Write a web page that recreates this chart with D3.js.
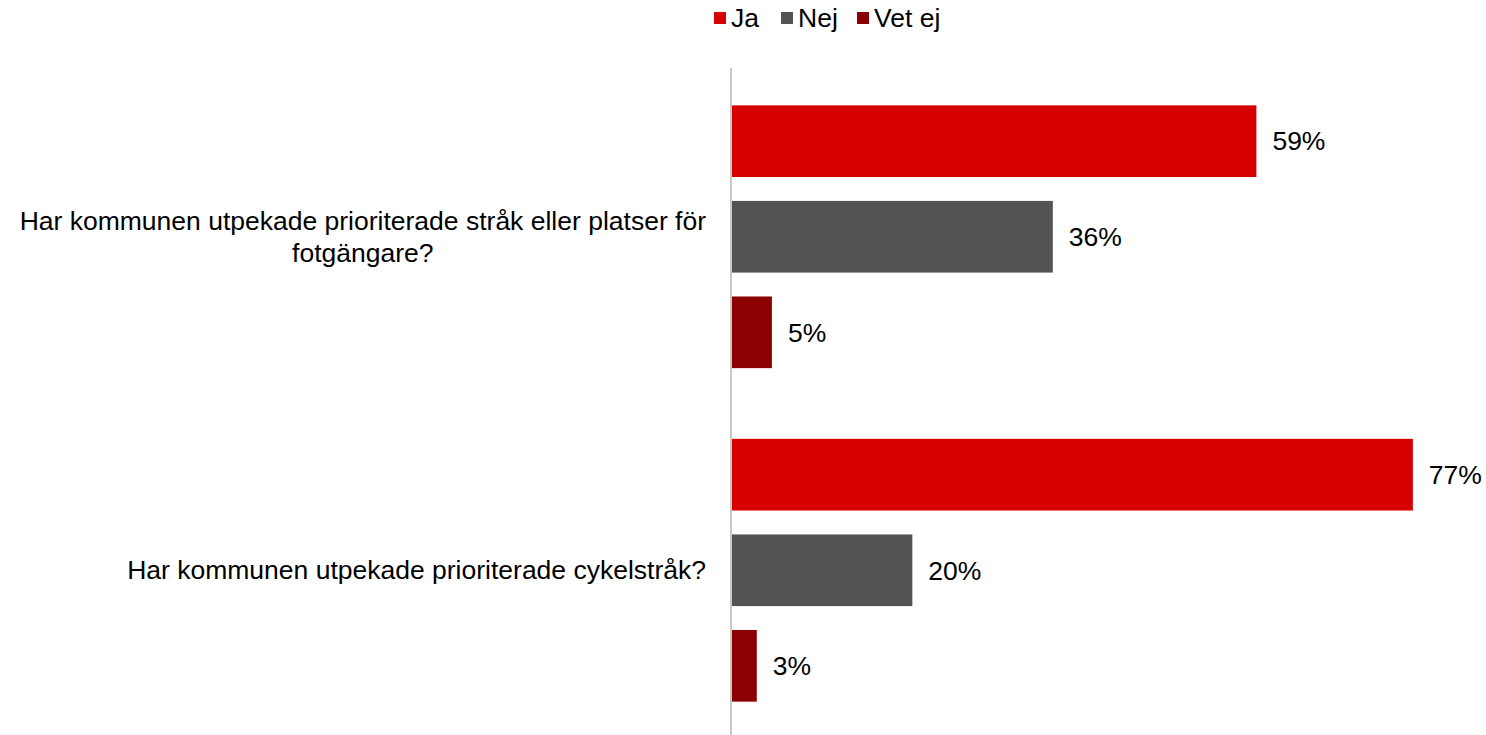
<!DOCTYPE html>
<html>
<head>
<meta charset="utf-8">
<script src="https://cdn.jsdelivr.net/npm/d3@7"></script>
<style>
  body { margin: 0; background: #fff; }
  text { font-family: "Liberation Sans", Arial, sans-serif; fill: #000; }
</style>
</head>
<body>
<div id="chart"></div>
<script>
// frågor (kategorier), en rad per textrad
var fragor = [
    ["Har kommunen utpekade prioriterade stråk eller platser för", "fotgängare?"],
    ["Har kommunen utpekade prioriterade cykelstråk?"]
];
var serier = ["Ja", "Nej", "Vet ej"];
var farger = ["#d70000", "#545454", "#8b0000"];
// andelar i procent (avlästa från staplarna, etiketten avrundas)
var ja = [59.1, 76.7];
var nej = [36.2, 20.4];
var vetEj = [4.6, 2.9];

var width = 1486, height = 735;
var margin = {top: 68, right: 0, bottom: 0, left: 731};
var fontSize = '26.5px';

var dados = fragor.map(function(f, i){
    return {fraga: i, varden: [ja[i], nej[i], vetEj[i]]};
});

var svg = d3.select('#chart').append('svg')
    .attr('width', width).attr('height', height);

var xs = d3.scaleLinear().domain([0, 100]).range([0, 889]);
var ys = d3.scaleBand().domain(d3.range(fragor.length))
    .range([margin.top + 2, height + 2]);
var yInner = d3.scaleBand().domain(d3.range(serier.length))
    .range([0, ys.bandwidth()]).paddingInner(0.25).paddingOuter(0.37);

var plotArea = svg.append('g')
    .attr('transform', 'translate(' + margin.left + ',0)');

var grupper = plotArea.selectAll('g.grupp').data(dados).enter().append('g')
    .attr('class', 'grupp')
    .attr('transform', function(d){ return 'translate(0,' + ys(d.fraga) + ')'; });

grupper.selectAll('rect').data(function(d){ return d.varden; }).enter().append('rect')
    .attr('x', 0)
    .attr('y', function(d, i){ return yInner(i); })
    .attr('width', function(d){ return xs(d); })
    .attr('height', yInner.bandwidth())
    .attr('fill', function(d, i){ return farger[i]; });

grupper.selectAll('text.varde').data(function(d){ return d.varden; }).enter().append('text')
    .attr('class', 'varde')
    .attr('x', function(d){ return xs(d) + 16; })
    .attr('y', function(d, i){ return yInner(i) + yInner.bandwidth() / 2; })
    .attr('dy', '0.35em')
    .style('font-size', fontSize)
    .text(function(d){ return Math.round(d) + '%'; });

// axellinje
plotArea.append('line')
    .attr('x1', 0).attr('x2', 0)
    .attr('y1', margin.top).attr('y2', height)
    .attr('stroke', '#c8c8c8').attr('stroke-width', 2);

// kategorietiketter: blocket högerställt, raderna centrerade inom blocket
var radAvstand = 32, etikettHoger = 706;
var etiketter = svg.selectAll('text.fraga').data(fragor).enter().append('text')
    .attr('class', 'fraga')
    .attr('text-anchor', 'middle')
    .style('font-size', fontSize)
    .attr('y', function(d, i){
        return ys(i) + ys.bandwidth() / 2 - (d.length - 1) / 2 * radAvstand + 9;
    });

var tspans = etiketter.selectAll('tspan').data(function(d){ return d; }).enter().append('tspan')
    .attr('dy', function(d, i){ return i === 0 ? 0 : radAvstand; })
    .text(function(d){ return d; });

etiketter.each(function(){
    var maxW = 0;
    d3.select(this).selectAll('tspan').each(function(){
        maxW = Math.max(maxW, this.getComputedTextLength());
    });
    d3.select(this).selectAll('tspan').attr('x', etikettHoger - maxW / 2);
});

// legend
var legendPos = [714, 781, 857];
var legend = svg.selectAll('g.legend').data(serier).enter().append('g')
    .attr('class', 'legend')
    .attr('transform', function(d, i){ return 'translate(' + legendPos[i] + ',0)'; });
legend.append('rect')
    .attr('x', 0).attr('y', 12).attr('width', 12).attr('height', 12)
    .attr('fill', function(d, i){ return farger[i]; });
legend.append('text')
    .attr('x', 17).attr('y', 27)
    .style('font-size', fontSize)
    .text(function(d){ return d; });
</script>
</body>
</html>
